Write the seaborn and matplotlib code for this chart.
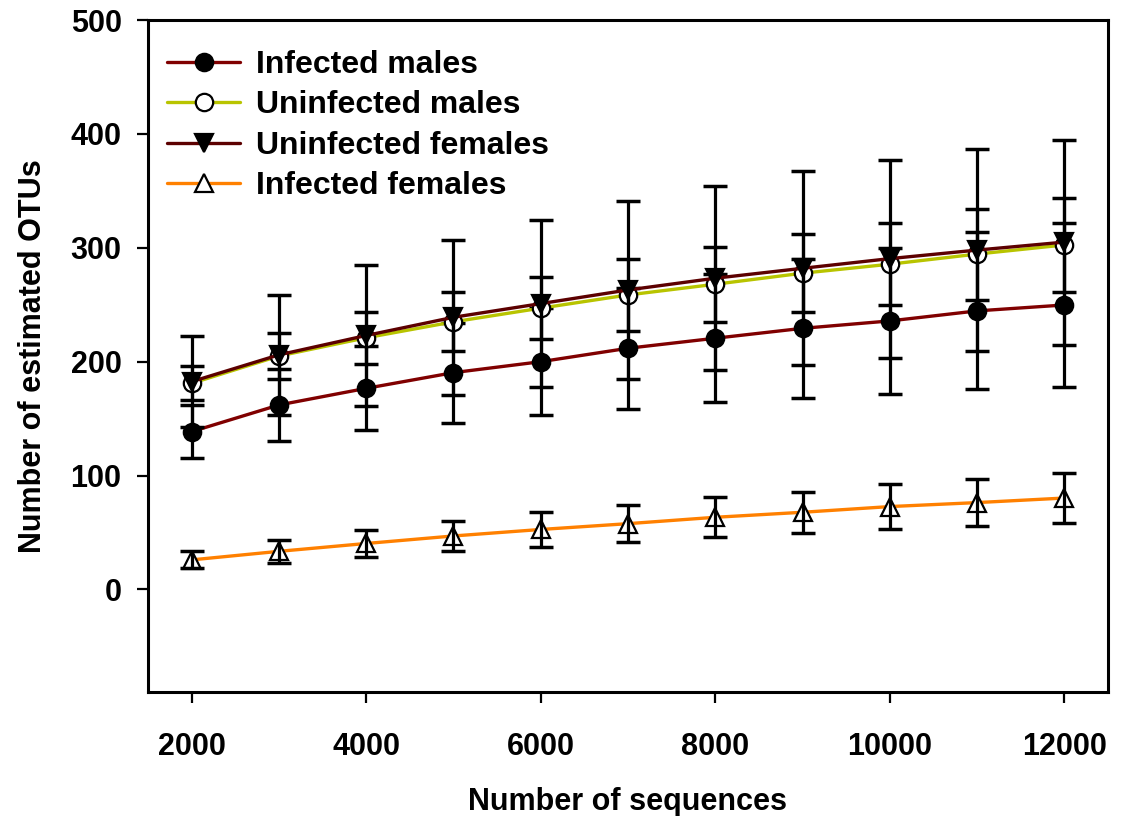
import numpy as np
import pandas as pd
import matplotlib
matplotlib.use("Agg")
import matplotlib.pyplot as plt
import seaborn as sns

# ---- data ----
sequences = [2000, 3000, 4000, 5000, 6000, 7000, 8000, 9000, 10000, 11000, 12000]

infected_males = [138.6, 162, 176.6, 190.4, 200, 211.8, 220.6, 229.3, 235.8, 244.6, 249.8]
infected_males_err = [23, 32, 37, 44, 47, 53, 56, 61, 64, 69, 72]

uninfected_males = [181, 205, 221, 235, 247, 258.6, 268, 277.7, 285.6, 294.5, 302.5]
uninfected_males_err = [15, 20, 23, 26, 27, 32, 33, 34, 36, 40, 41.5]

uninfected_females = [182.5, 206, 223, 239, 251, 263, 273.3, 282, 290.5, 298, 305]
uninfected_females_err = [40, 52.6, 62, 68, 73, 78.5, 81, 85, 87, 88.5, 90]

infected_females = [26, 33.5, 40.4, 47, 52.7, 57.8, 63.4, 67.8, 72.8, 76.3, 80.3]
infected_females_err = [7.5, 10, 11.7, 13.5, 15, 16.3, 17.7, 18, 19.8, 20.3, 21.7]

series_names = ["Infected males", "Uninfected males", "Uninfected females", "Infected females"]
x_ticks = [2000, 4000, 6000, 8000, 10000, 12000]
y_ticks = [0, 100, 200, 300, 400, 500]

# ---- style ----
sns.set_theme(style="ticks")
plt.rcParams["font.family"] = ["Liberation Sans", "DejaVu Sans"]
plt.rcParams["font.weight"] = "bold"
plt.rcParams["text.color"] = "black"
plt.rcParams["axes.labelcolor"] = "black"
plt.rcParams["xtick.color"] = "black"
plt.rcParams["ytick.color"] = "black"

fig = plt.figure(figsize=(11.23, 8.16), dpi=100)
ax = fig.add_axes([148 / 1123, 1 - 692 / 816, 960 / 1123, 672 / 816])

values = [infected_males, uninfected_males, uninfected_females, infected_females]
errors = [infected_males_err, uninfected_males_err, uninfected_females_err, infected_females_err]
colors = ["#800000", "#b8c400", "#5c0000", "#ff8000"]
markers = ["o", "o", "v", "^"]
mfc = ["black", "white", "black", "white"]
msizes = [12.5, 12.5, 12.5, 12.5]

for i, (name, vals, errs) in enumerate(zip(series_names, values, errors)):
    df = pd.DataFrame({"seq": sequences, "otus": vals})
    sns.lineplot(data=df, x="seq", y="otus", ax=ax, color=colors[i], lw=2.4,
                 marker=markers[i], markersize=msizes[i], markerfacecolor=mfc[i],
                 markeredgecolor="black", markeredgewidth=1.6, label=name,
                 zorder=3 + 2 * i)
    ax.errorbar(sequences, vals, yerr=errs, fmt="none", ecolor="black",
                elinewidth=2.3, capsize=8.5, capthick=2.5, zorder=4 + 2 * i)

ax.set_xlim(1500, 12500)
ax.set_ylim(-90, 500)
ax.set_xticks(x_ticks)
ax.set_yticks(y_ticks)
ax.set_xticklabels([str(t) for t in x_ticks], fontsize=22, fontweight="bold", color="black")
ax.set_yticklabels([str(t) for t in y_ticks], fontsize=22, fontweight="bold", color="black")
ax.tick_params(axis="both", direction="out", length=8, width=1.6, colors="black")
ax.tick_params(axis="x", pad=21)
ax.tick_params(axis="y", pad=11)

for sp in ax.spines.values():
    sp.set_visible(True)
    sp.set_linewidth(2.2)
    sp.set_color("black")

ax.set_xlabel("Number of sequences", fontsize=22, fontweight="bold", labelpad=18, color="black")
ax.set_ylabel("Number of estimated OTUs", fontsize=22, fontweight="bold", labelpad=16, color="black")

leg = ax.legend(loc="upper left", bbox_to_anchor=(0.0198, 0.955), frameon=False,
                fontsize=23, handlelength=2.3, handletextpad=0.5,
                labelspacing=0.32, borderpad=0, borderaxespad=0)
for t in leg.get_texts():
    t.set_fontweight("bold")
    t.set_color("black")

ax.set_facecolor("white")
fig.patch.set_facecolor("white")
fig.savefig("out.png", dpi=100, facecolor="white")
